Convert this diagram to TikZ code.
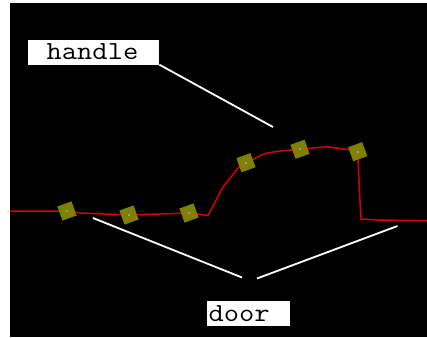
\documentclass[tikz,border=0pt]{standalone}
\usetikzlibrary{calc}
\definecolor{markolive}{RGB}{128,128,0}
\definecolor{tracered}{RGB}{215,0,0}
\definecolor{dotgray}{RGB}{150,150,190}
\newcommand{\tagword}[1]{\scalebox{1.14}[1]{\ttfamily\fontsize{26pt}{27pt}\selectfont #1}}
\tikzset{
  tagbox/.style={draw=none, fill=white, inner sep=0pt, rectangle},
  tagtext/.style={inner sep=0pt, text=black},
  leader/.style={draw=white, line width=1.8pt},
  trace/.style={draw=tracered, line width=1.5pt},
  marker/.style={fill=markolive, draw=none, rectangle, minimum size=15pt, inner sep=0pt, rotate=20},
  centerdot/.style={fill=dotgray, draw=none, rectangle, minimum size=2pt, inner sep=0pt}
}
\begin{document}
\begin{tikzpicture}[x=1pt, y=-1pt]
  % page and dark field
  \useasboundingbox (0,0) rectangle (427,337);
  \fill[white] (0,0) rectangle (427,337);
  \fill[black] (10,3) rectangle (427,337);

  % outline through the control points
  \coordinate (t0) at (10,211);
  \coordinate (t1) at (30,211);
  \coordinate (t2) at (80,213);
  \coordinate (t3) at (208,215.5);
  \coordinate (t4) at (223,187);
  \coordinate (t5) at (238,168);
  \coordinate (t6) at (265,153.5);
  \coordinate (t7) at (280,151);
  \coordinate (t8) at (327,146.7);
  \coordinate (t9) at (357.7,151);
  \coordinate (t10) at (359.3,188);
  \coordinate (t11) at (361,219);
  \coordinate (t12) at (377,220);
  \coordinate (t13) at (427,220.7);

  % control point positions
  \coordinate (p1) at (67,211);
  \coordinate (p2) at (129,215);
  \coordinate (p3) at (189,213);
  \coordinate (p4) at (246,162.7);
  \coordinate (p5) at (300,149.3);
  \coordinate (p6) at (357.7,151.7);

  \draw[trace] (t0) -- (t1) -- (p1) -- (t2) -- (p2) -- (p3) -- (t3) -- (t4) -- (t5)
    -- (p4) -- (t6) -- (t7) -- (p5) -- (t8) -- (t9) -- (t10) -- (t11) -- (t12) -- (t13);

  % control point markers
  \foreach \i in {1,...,6} {
    \node[marker] (m\i) at (p\i) {};
    \node[centerdot] (d\i) at (m\i.center) {};
  }

  % labels
  \node[tagbox, minimum width=131pt, minimum height=24.3pt, anchor=north west] (handle) at (28,40) {};
  \node[tagtext, anchor=base west] (handletext) at ($(handle.south west)+(18.5pt,5pt)$) {\tagword{handle}};

  \node[tagbox, minimum width=83pt, minimum height=25pt, anchor=north west] (door) at (207,301) {};
  \node[tagtext, anchor=base west] (doortext) at ($(door.south west)+(1.5pt,5.3pt)$) {\tagword{door}};

  % leader lines
  \coordinate (handletip) at (273,127);
  \coordinate (doortipa) at (93,218);
  \coordinate (doorenda) at (242,277.5);
  \coordinate (doorendb) at (257,278.5);
  \coordinate (doortipb) at (397.5,226);

  \draw[leader] (handle.south east) -- (handletip);
  \draw[leader] (doortipa) -- (doorenda);
  \draw[leader] (doorendb) -- (doortipb);
\end{tikzpicture}
\end{document}
